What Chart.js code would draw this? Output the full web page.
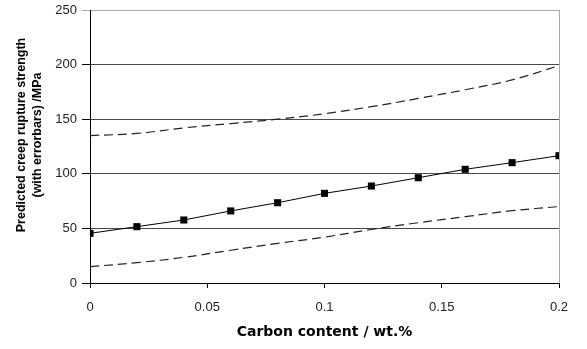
<!DOCTYPE html>
<html>
<head>
<meta charset="utf-8">
<script src="https://cdn.jsdelivr.net/npm/chart.js@4.4.1/dist/chart.umd.min.js"></script>
<style>
  html, body { margin: 0; padding: 0; background: #ffffff; }
  #c { display: block; }
</style>
</head>
<body>
<canvas id="c" width="587" height="349"></canvas>
<script>
// ---- data ----
const carbon = [0, 0.02, 0.04, 0.06, 0.08, 0.1, 0.12, 0.14, 0.16, 0.18, 0.2];
const predicted = [45.5, 51.6, 57.7, 66.0, 73.5, 82.1, 88.8, 96.4, 104.1, 110.2, 116.6];
const upperBound = [135, 137, 142, 146, 150, 155, 161.5, 169, 177, 186, 199];
const lowerBound = [15, 18.6, 23.5, 30, 36.3, 42, 49, 55.2, 60.7, 66.2, 70];
const xTickValues = [0, 0.05, 0.1, 0.15, 0.2];
const xTickLabels = ['0', '0.05', '0.1', '0.15', '0.2'];
const yTickValues = [0, 50, 100, 150, 200, 250];
const yTickLabels = ['0', '50', '100', '150', '200', '250'];
const xTitle = 'Carbon content / wt.%';
const yTitleLines = ['Predicted creep rupture strength', '(with errorbars) /MPa'];

const pts = (ys) => carbon.map((x, i) => ({ x: x, y: ys[i] }));

const frame = {
  id: 'frame',
  afterDraw(chart) {
    const { ctx, chartArea } = chart;
    ctx.save();
    // right border of plot area
    ctx.strokeStyle = '#a8a8a8';
    ctx.lineWidth = 1;
    ctx.beginPath();
    ctx.moveTo(Math.round(chartArea.right) + 0.5, chartArea.top);
    ctx.lineTo(Math.round(chartArea.right) + 0.5, chartArea.bottom);
    ctx.stroke();
    // y axis title (two lines, rotated)
    ctx.fillStyle = '#000';
    ctx.font = 'bold 12.5px "Liberation Sans", Arial, sans-serif';
    ctx.textAlign = 'center';
    ctx.textBaseline = 'middle';
    ctx.translate(22, 135);
    ctx.rotate(-Math.PI / 2);
    yTitleLines.forEach((t, i) => ctx.fillText(t, 0, i * 16));
    ctx.restore();
  }
};

new Chart(document.getElementById('c'), {
  type: 'scatter',
  data: {
    datasets: [
      {
        data: pts(upperBound), showLine: true, borderColor: '#222', borderWidth: 1.2,
        borderDash: [9, 5], pointRadius: 0, tension: 0.4, fill: false
      },
      {
        data: pts(lowerBound), showLine: true, borderColor: '#222', borderWidth: 1.2,
        borderDash: [9, 5], pointRadius: 0, tension: 0.4, fill: false
      },
      {
        data: pts(predicted), showLine: true, borderColor: '#000', borderWidth: 1,
        pointStyle: 'rect', pointRadius: 5, pointBackgroundColor: '#000',
        pointBorderColor: '#000', pointBorderWidth: 0, tension: 0
      }
    ]
  },
  options: {
    responsive: false,
    animation: false,
    devicePixelRatio: 1,
    events: [],
    layout: { padding: { top: 10, right: 28, left: 0, bottom: 0 } },
    plugins: { legend: { display: false }, tooltip: { enabled: false } },
    scales: {
      x: {
        type: 'linear', min: 0, max: 0.2,
        afterFit(s) { s.height = 66; s.paddingLeft = 0; s.paddingRight = 0; },
        afterBuildTicks(s) { s.ticks = xTickValues.map(v => ({ value: v })); },
        ticks: {
          callback: (v) => { const i = xTickValues.findIndex(t => Math.abs(t - v) < 1e-9); return i >= 0 ? xTickLabels[i] : ''; },
          color: '#222', padding: 12, maxRotation: 0,
          font: { family: '"Liberation Sans", Arial, sans-serif', size: 13 }
        },
        grid: { drawOnChartArea: false, drawTicks: true, tickLength: 5, tickColor: '#000' },
        border: { color: '#000', width: 1 },
        title: {
          display: true, text: xTitle, color: '#000', padding: { top: 0, bottom: 8 },
          font: { family: '"DejaVu Sans", Verdana, sans-serif', size: 14, weight: 'bold' }
        }
      },
      y: {
        min: 0, max: 250,
        afterFit(s) { s.width = 90; s.paddingTop = 0; s.paddingBottom = 0; },
        afterBuildTicks(s) { s.ticks = yTickValues.map(v => ({ value: v })); },
        ticks: {
          callback: (v) => { const i = yTickValues.indexOf(v); return i >= 0 ? yTickLabels[i] : ''; },
          color: '#222', padding: 5,
          font: { family: '"Liberation Sans", Arial, sans-serif', size: 13 }
        },
        grid: {
          drawTicks: true, tickLength: 8, lineWidth: 1,
          tickColor: (c) => c.tick && c.tick.value === 250 ? '#a8a8a8' : '#000',
          color: (c) => c.tick && c.tick.value === 250 ? '#a8a8a8' : (c.tick && c.tick.value === 0 ? '#000' : '#4a4a4a')
        },
        border: { color: '#000', width: 1 }
      }
    }
  },
  plugins: [frame]
});
</script>
</body>
</html>
